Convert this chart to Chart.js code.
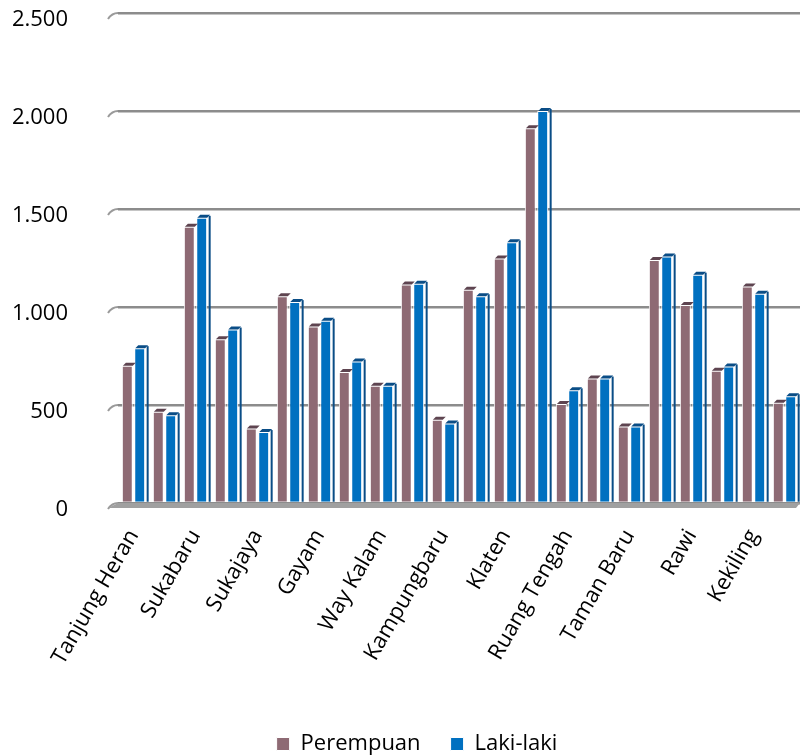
<!DOCTYPE html>
<html>
<head>
<meta charset="utf-8">
<script src="https://cdn.jsdelivr.net/npm/chart.js@4.4.1/dist/chart.umd.min.js"></script>
<style>
  html, body { margin: 0; padding: 0; background: #fff; }
  #wrap { width: 805px; height: 756px; }
</style>
</head>
<body>
<div id="wrap"><canvas id="grafik" width="805" height="756"></canvas></div>
<script>
// Nama desa (hanya label genap yang tampil, seperti pada gambar)
var desa = [
  "Tanjung Heran", "Banjarmasin", "Sukabaru", "Pisang", "Sukajaya", "Tetaan",
  "Gayam", "Padan", "Way Kalam", "Gandri", "Kampungbaru", "Kuripan",
  "Klaten", "Belambangan", "Ruang Tengah", "Pasuruan", "Taman Baru", "Penengahan",
  "Rawi", "Sukaraja", "Kekiling", "Ruguk"
];

// Jumlah penduduk per jenis kelamin
var perempuan = [700, 465, 1410, 835, 380, 1055, 900, 668, 598, 1115, 425,
                 1088, 1248, 1912, 505, 635, 390, 1240, 1010, 675, 1105, 512];
var lakiLaki = [790, 448, 1455, 885, 362, 1025, 930, 722, 598, 1118, 405,
                1055, 1330, 2000, 575, 635, 390, 1258, 1165, 697, 1068, 545];

var yTicks = [0, 500, 1000, 1500, 2000, 2500];

var warnaP = "#8e6a74";
var warnaL = "#0070c0";

function formatAngka(v) {
  return String(v).replace(/\B(?=(\d{3})+(?!\d))/g, ".");
}

// Efek 3D sederhana: sisi kanan dan tutup atas batang, garis miring di kiri grid
var efek3D = {
  id: "efek3D",
  afterLayout: function(chart) {
    // legenda sedikit ke kanan seperti gambar asli
    chart.legend.left += 17;
    chart.legend.right += 17;
  },
  beforeDatasetsDraw: function(chart) {
    var c = chart.ctx;
    var y = chart.scales.y;
    var area = chart.chartArea;
    c.save();
    c.strokeStyle = "#9a9a9a";
    c.lineWidth = 2;
    yTicks.forEach(function(t) {
      var py = y.getPixelForValue(t);
      c.beginPath();
      c.moveTo(area.left - 10, py + 6);
      c.quadraticCurveTo(area.left - 6, py, area.left, py);
      c.stroke();
    });
    // lantai
    var py0 = y.getPixelForValue(0);
    c.fillStyle = "#a0a0a0";
    c.beginPath();
    c.moveTo(area.left - 10, py0 + 5);
    c.lineTo(area.right - 4, py0 + 5);
    c.lineTo(area.right, py0);
    c.lineTo(area.left, py0);
    c.closePath();
    c.fill();
    c.restore();
  },
  afterDatasetsDraw: function(chart) {
    var c = chart.ctx;
    c.save();
    chart.data.datasets.forEach(function(ds, i) {
      var meta = chart.getDatasetMeta(i);
      var gelap = i === 0 ? "#5e4450" : "#0a4d86";
      meta.data.forEach(function(bar) {
        var kanan = bar.x + bar.width / 2;
        var kiri = bar.x - bar.width / 2;
        // tutup atas
        c.fillStyle = gelap;
        c.beginPath();
        c.moveTo(kiri + 1, bar.y);
        c.lineTo(kiri + 4, bar.y - 3);
        c.lineTo(kanan + 3, bar.y - 3);
        c.lineTo(kanan, bar.y);
        c.closePath();
        c.fill();
        // sisi kanan
        if (i === 1) {
          c.fillRect(kanan + 1.5, bar.y - 2, 2, bar.base - bar.y + 2);
        }
      });
    });
    c.restore();
  }
};

var chart = new Chart(document.getElementById("grafik").getContext("2d"), {
  type: "bar",
  data: {
    labels: desa,
    datasets: [
      {
        label: "Perempuan",
        data: perempuan,
        backgroundColor: warnaP,
        borderColor: "#ffffff",
        borderWidth: 1,
        categoryPercentage: 0.8,
        barPercentage: 0.88
      },
      {
        label: "Laki-laki",
        data: lakiLaki,
        backgroundColor: warnaL,
        borderColor: "#ffffff",
        borderWidth: 1,
        categoryPercentage: 0.8,
        barPercentage: 0.88
      }
    ]
  },
  options: {
    responsive: false,
    animation: false,
    layout: { padding: { top: 13, right: 5, left: 0, bottom: -9 } },
    plugins: {
      tooltip: { enabled: false },
      legend: {
        position: "bottom",
        labels: {
          boxWidth: 13,
          boxHeight: 13,
          padding: 30,
          color: "#000",
          font: { family: "'Open Sans'", size: 22 }
        }
      }
    },
    scales: {
      x: {
        grid: { display: false },
        border: { display: false },
        ticks: {
          autoSkip: false,
          minRotation: 60,
          maxRotation: 60,
          padding: 14,
          color: "#000",
          font: { family: "'Open Sans'", size: 22 },
          callback: function(v, i) {
            return i % 2 === 0 ? desa[i] : "";
          }
        },
        afterFit: function(s) {
          s.height = 200;
          s.paddingLeft = 0;
          s.paddingRight = 0;
        }
      },
      y: {
        min: 0,
        max: 2500,
        afterBuildTicks: function(s) {
          s.ticks = yTicks.map(function(v) { return { value: v }; });
        },
        grid: { color: "#8c8c8c", lineWidth: 2.5, drawTicks: false },
        border: { display: false },
        ticks: {
          padding: 50,
          labelOffset: 7,
          color: "#000",
          font: { family: "'Open Sans'", size: 22 },
          callback: function(v) { return formatAngka(v); }
        },
        afterFit: function(s) {
          s.width = 118;
          s.paddingTop = 0;
          s.paddingBottom = 0;
        }
      }
    }
  },
  plugins: [efek3D]
});
</script>
</body>
</html>
